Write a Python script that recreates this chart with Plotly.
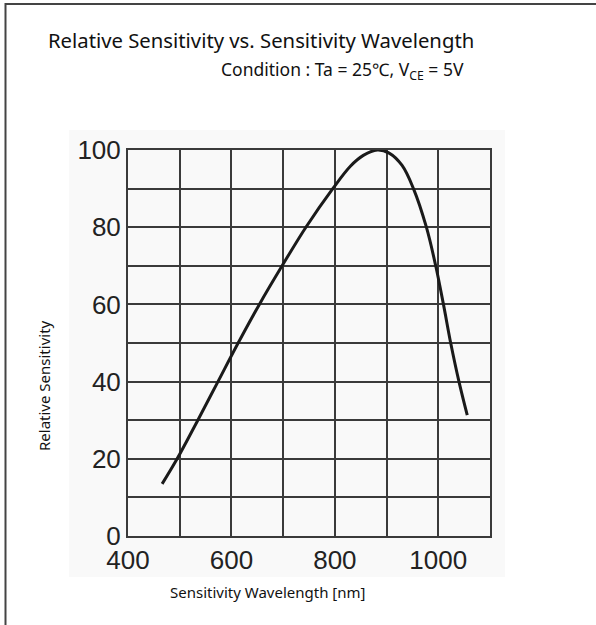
import plotly.graph_objects as go

# Data
wavelength = [466, 495, 535, 574, 613, 654, 698, 744, 796, 830, 855, 882, 905, 930, 952, 977, 995, 1010, 1024, 1040, 1056]
sensitivity = [13.5, 20, 30, 40, 50, 60, 70, 80, 90, 95.8, 98.6, 100, 99.2, 96, 90, 80, 70, 60, 50, 40, 31.3]

x_grid = [400, 500, 600, 700, 800, 900, 1000, 1100]
x_labels = ["400", "", "600", "", "800", "", "1000", ""]
y_grid = [0, 10, 20, 30, 40, 50, 60, 70, 80, 90, 100]
y_labels = ["0", "", "20", "", "40", "", "60", "", "80", "", "100"]

title_text = "Relative Sensitivity vs. Sensitivity Wavelength"
cond_text = "Condition : Ta = 25\u2103, V<sub>CE</sub> = 5V"
x_title = "Sensitivity Wavelength [nm]"
y_title = "Relative Sensitivity"

L, R, T, B = 128, 490, 150, 536
W, H = 596, 625
pw, ph = R - L, B - T

def px(x):
    return (x - L) / pw

def py(y):
    return (B - y) / ph

fig = go.Figure()
fig.add_trace(go.Scatter(
    x=wavelength, y=sensitivity, mode="lines",
    line=dict(color="#1a1a1a", width=3, shape="spline", smoothing=1.0),
    hoverinfo="skip", showlegend=False,
))

grid = "#3a3a3a"
tickfont = dict(family="Liberation Sans, Arial, sans-serif", size=26, color="#222")
fig.update_xaxes(
    range=[400, 1100], tickvals=x_grid, ticktext=x_labels,
    showgrid=True, gridcolor=grid, gridwidth=2,
    showline=True, linecolor=grid, linewidth=2, mirror=True,
    ticks="", tickfont=tickfont, zeroline=False, fixedrange=True,
)
fig.update_yaxes(
    range=[0, 100], tickvals=y_grid, ticktext=y_labels,
    showgrid=True, gridcolor=grid, gridwidth=2,
    showline=True, linecolor=grid, linewidth=2, mirror=True,
    ticks="", tickfont=tickfont, zeroline=False, fixedrange=True,
)

txtfont = "Noto Sans, Open Sans, DejaVu Sans, sans-serif"
fig.update_layout(
    width=W, height=H,
    margin=dict(l=L, r=W - R, t=T, b=H - B, pad=0),
    paper_bgcolor="white", plot_bgcolor="white",
    shapes=[
        dict(type="rect", xref="paper", yref="paper", layer="below",
             x0=px(69), x1=px(505), y0=py(577), y1=py(130),
             fillcolor="#f9f9f9", line=dict(width=0)),
        dict(type="rect", xref="paper", yref="paper", layer="above",
             x0=px(5.5), x1=px(700), y0=py(700), y1=py(4),
             fillcolor="rgba(0,0,0,0)", line=dict(color="#444", width=2)),
    ],
    annotations=[
        dict(text=title_text, xref="paper", yref="paper", x=px(261), y=py(40),
             xanchor="center", yanchor="middle", showarrow=False,
             font=dict(family=txtfont, size=20.3, color="#111")),
        dict(text=cond_text, xref="paper", yref="paper", x=px(466), y=py(71),
             xanchor="right", yanchor="middle", showarrow=False,
             font=dict(family=txtfont, size=17.5, color="#111")),
        dict(text=x_title, xref="paper", yref="paper", x=px(267), y=py(592),
             xanchor="center", yanchor="middle", showarrow=False,
             font=dict(family=txtfont, size=15, color="#111")),
        dict(text=y_title, xref="paper", yref="paper", x=px(44), y=py(386),
             xanchor="center", yanchor="middle", showarrow=False, textangle=-90,
             font=dict(family=txtfont, size=15, color="#111")),
    ],
)

fig.write_html("out.html", config={"displayModeBar": False, "staticPlot": True})

# remove the default page margin so the figure sits at the window origin
with open("out.html", "r", encoding="utf-8") as f:
    html = f.read()
html = html.replace("<head>", "<head><style>html,body{margin:0;padding:0;overflow:hidden;}</style>", 1)
with open("out.html", "w", encoding="utf-8") as f:
    f.write(html)
